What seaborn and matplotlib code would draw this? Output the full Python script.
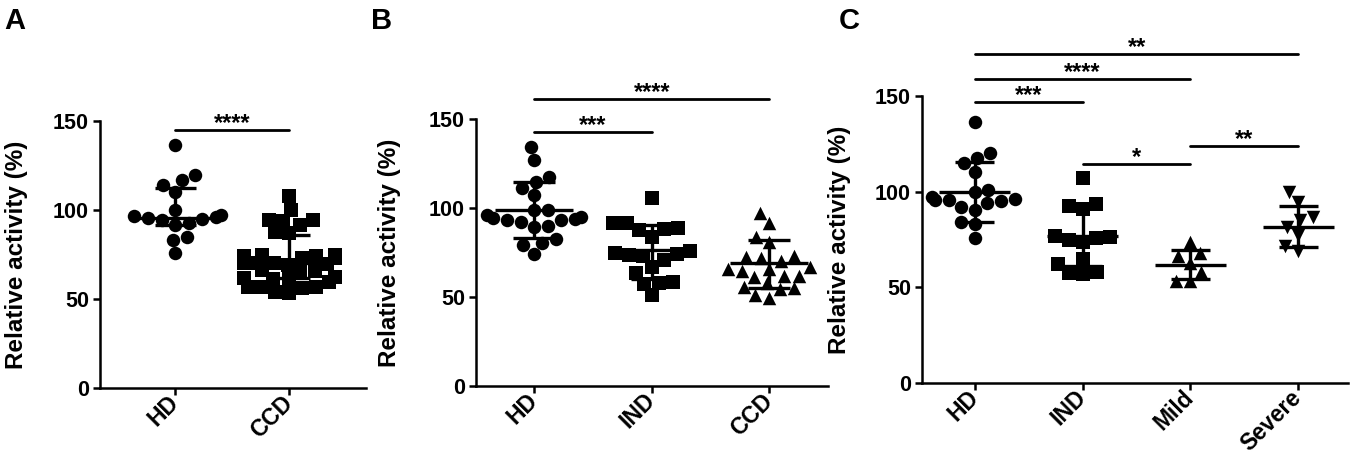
import matplotlib
matplotlib.use("Agg")
import numpy as np
import pandas as pd
import matplotlib.pyplot as plt
import seaborn as sns

# ---------------- data ----------------
A_groups = ["HD", "CCD"]
A_HD = [136.5, 119.7, 116.9, 114.0, 110.3, 100.0, 97.2, 96.6, 95.9, 95.3, 95.0, 94.4, 92.5, 91.6, 85.0, 83.1, 75.6]
A_CCD = [107.9, 100.0, 94.4, 94.4, 93.8, 91.6, 87.5, 87.0, 75.0, 74.5, 74.0, 74.0, 73.5, 73.0, 73.0,
         70.5, 70.0, 70.0, 69.5, 69.0, 66.5, 66.0, 65.5, 62.5, 62.0, 61.5, 61.0, 59.7, 57.0, 57.0,
         56.5, 56.0, 54.0, 53.3]
A_median = [95.3, 70.2]
A_q1 = [91.6, 62.0]
A_q3 = [112.1, 86.0]
A_sig_from = [0]
A_sig_to = [1]
A_sig_y = [145]
A_sig_text = ["****"]

B_groups = ["HD", "IND", "CCD"]
B_HD = [134.4, 127.0, 117.6, 114.8, 111.1, 107.3, 99.0, 98.9, 96.0, 95.0, 94.5, 94.0, 93.5, 93.0, 92.0,
        90.0, 89.5, 82.6, 80.5, 79.0, 74.2]
B_IND = [105.4, 91.4, 91.4, 88.5, 88.0, 87.6, 83.9, 76.0, 75.0, 74.0, 73.6, 73.0, 70.8, 67.0, 63.4,
         58.4, 58.0, 57.5, 51.0]
B_CCD = [97.0, 91.4, 83.9, 81.1, 73.0, 72.5, 72.0, 70.0, 67.0, 66.0, 66.0, 64.5, 62.0, 61.7, 61.0,
         58.0, 55.5, 55.0, 54.5, 51.0, 49.4]
B_median = [98.9, 76.4, 69.1]
B_q1 = [83.0, 60.0, 55.0]
B_q3 = [114.8, 90.4, 82.0]
B_sig_from = [0, 0]
B_sig_to = [1, 2]
B_sig_y = [142.5, 161]
B_sig_text = ["***", "****"]

C_groups = ["HD", "IND", "Mild", "Severe"]
C_HD = [136.3, 120.3, 117.7, 115.1, 110.5, 101.0, 100.0, 97.0, 96.0, 95.5, 95.5, 95.0, 94.0, 92.0,
        90.4, 84.0, 83.0, 75.6]
C_IND = [107.0, 93.5, 92.7, 90.9, 77.0, 76.5, 76.0, 75.0, 73.5, 65.0, 62.0, 58.0, 57.5, 57.0]
C_Mild = [73.9, 67.7, 66.4, 62.7, 58.0, 53.5, 53.3]
C_Severe = [100.0, 94.8, 87.0, 85.0, 81.7, 77.4, 71.7, 69.0]
C_median = [100.1, 76.8, 61.7, 81.7]
C_q1 = [84.3, 61.2, 54.2, 71.0]
C_q3 = [115.4, 92.2, 69.5, 92.7]
C_sig_from = [0, 0, 0, 1, 2]
C_sig_to = [1, 2, 3, 2, 3]
C_sig_y = [147, 158.9, 172, 114.5, 124]
C_sig_text = ["***", "****", "**", "*", "**"]

sns.set_theme(style="ticks")
plt.rcParams["font.family"] = ["Liberation Sans", "DejaVu Sans"]
plt.rcParams["font.weight"] = "bold"
plt.rcParams["axes.labelweight"] = "bold"
for k in ["text.color", "axes.labelcolor", "xtick.color", "ytick.color", "axes.edgecolor"]:
    plt.rcParams[k] = "black"


def draw_panel(ax, groups, series, markers, med, q1, q3, sfrom, sto, sy, stext, xlim):
    for i, (g, vals, m) in enumerate(zip(groups, series, markers)):
        df = pd.DataFrame({"group": [g] * len(vals), "value": vals})
        sns.swarmplot(data=df, x="group", y="value", order=groups, marker=m,
                      color="black", size=9.7, linewidth=0, ax=ax, warn_thresh=1)
    pos = np.arange(len(groups))
    ax.hlines(med, pos - 0.33, pos + 0.33, color="black", lw=2.4, zorder=5)
    ax.hlines(q1, pos - 0.18, pos + 0.18, color="black", lw=2.4, zorder=5)
    ax.hlines(q3, pos - 0.18, pos + 0.18, color="black", lw=2.4, zorder=5)
    ax.vlines(pos, q1, q3, color="black", lw=2.4, zorder=5)

    # significance bars
    for a, b, y, t in zip(sfrom, sto, sy, stext):
        ax.plot([a, b], [y, y], color="black", lw=2, clip_on=False)
        ax.annotate(t, xy=((a + b) / 2, y), xytext=(0, 0), textcoords="offset points",
                    ha="center", va="baseline", fontsize=17, fontweight="bold",
                    annotation_clip=False)

    ax.set_xlim(*xlim)
    ax.set_ylim(0, 150)
    ax.set_yticks([0, 50, 100, 150])
    ax.set_xlabel("")
    ax.set_ylabel("Relative activity (%)", fontsize=17.5, fontweight="bold")
    ax.tick_params(axis="both", width=1.8, length=5, labelsize=15.5, pad=3)
    ax.set_xticks(pos)
    ax.set_xticklabels(groups, rotation=45, ha="right", va="center",
                       rotation_mode="anchor", fontweight="bold", fontsize=16.5)
    for lab in ax.get_yticklabels():
        lab.set_fontweight("bold")
    sns.despine(ax=ax)
    for s in ["left", "bottom"]:
        ax.spines[s].set_linewidth(1.8)


fig = plt.figure(figsize=(13.58, 4.68), dpi=100)

axA = fig.add_axes([0.0736, 0.1709, 0.1959, 0.5705])
draw_panel(axA, A_groups, [A_HD, A_CCD], ["o", "s"], A_median, A_q1, A_q3,
           A_sig_from, A_sig_to, A_sig_y, A_sig_text, (-0.66, 1.675))
axA.yaxis.set_label_coords(-0.27, 0.5)

axB = fig.add_axes([0.3505, 0.1752, 0.2592, 0.5705])
draw_panel(axB, B_groups, [B_HD, B_IND, B_CCD], ["o", "s", "^"], B_median, B_q1, B_q3,
           B_sig_from, B_sig_to, B_sig_y, B_sig_text, (-0.496, 2.5))
axB.yaxis.set_label_coords(-0.213, 0.5)

axC = fig.add_axes([0.6789, 0.1816, 0.3137, 0.6132])
draw_panel(axC, C_groups, [C_HD, C_IND, C_Mild, C_Severe], ["o", "s", "^", "v"],
           C_median, C_q1, C_q3, C_sig_from, C_sig_to, C_sig_y, C_sig_text, (-0.49, 3.46))
axC.yaxis.set_label_coords(-0.167, 0.5)

fig.text(0.003, 0.985, "A", fontsize=21, fontweight="bold", va="top")
fig.text(0.273, 0.985, "B", fontsize=21, fontweight="bold", va="top")
fig.text(0.618, 0.985, "C", fontsize=21, fontweight="bold", va="top")

fig.savefig("out.png", dpi=100)
